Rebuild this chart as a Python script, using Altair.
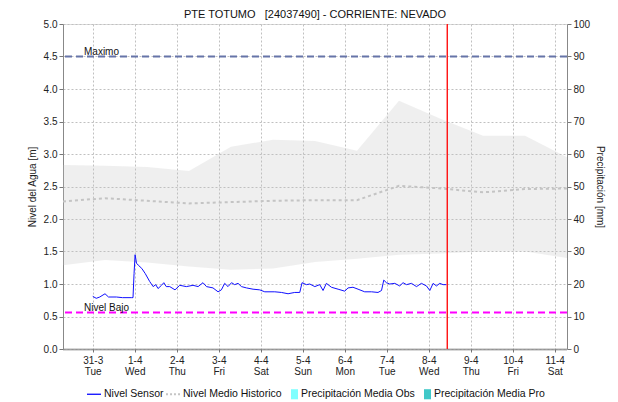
import altair as alt
import pandas as pd

title_text = "PTE TOTUMO\u00a0\u00a0\u00a0[24037490] - CORRIENTE: NEVADO"
sensor_start = "2020-03-31T00:00:00"

# hours since 31-3 00:00 and sensor level [m]
sensor_hours = [0, 2, 4, 7, 9, 13.5, 17, 22, 23, 23.6,
                24.2, 25, 26, 28, 30, 32.5, 34.5, 36, 37.3, 39.3,
                40.6, 42, 44, 47, 49.7, 53.5, 57.3, 60.2, 63, 65,
                68.7, 71.6, 73.5, 75.4, 77.3, 79.3, 81.1, 83, 85, 87.8,
                91.6, 95.4, 98.3, 104, 107.8, 111.6, 115.4, 118.3, 119.6, 122.1,
                124, 126.9, 129.7, 131.6, 133.5, 136.4, 140.2, 144, 145.9, 148.7,
                151.6, 155.4, 159.3, 163, 165, 166.3, 167.8, 169.7, 172.6, 175.4,
                177.3, 179.3, 182.1, 185, 187.8, 190.7, 192.6, 194.5, 196.4, 198.3,
                200.2, 202.1]
sensor_level = [0.81, 0.78, 0.80, 0.85, 0.80, 0.80, 0.79, 0.79, 0.79, 1.16,
                1.45, 1.32, 1.29, 1.24, 1.16, 1.04, 0.96, 0.99, 0.93, 0.98,
                1.02, 0.96, 0.96, 0.91, 0.98, 0.96, 0.98, 0.96, 1.02, 0.96,
                0.94, 0.88, 0.91, 1.01, 0.96, 1.02, 0.99, 1.01, 0.96, 0.94,
                0.92, 0.91, 0.88, 0.88, 0.87, 0.85, 0.87, 0.87, 1.02, 0.99,
                1.00, 0.96, 0.99, 0.90, 1.01, 0.95, 0.92, 0.89, 0.94, 0.95,
                0.92, 0.88, 0.88, 0.87, 0.90, 1.06, 1.02, 1.00, 1.01, 0.97,
                1.02, 0.99, 1.01, 0.96, 1.01, 0.97, 0.90, 1.01, 0.97, 1.01,
                0.99, 0.99]

# historical band (min/max) and historical mean level
band_times = ["2020-03-30T07:00:00", "2020-03-31T07:00:00", "2020-04-01T07:00:00",
              "2020-04-02T07:00:00", "2020-04-03T07:00:00", "2020-04-04T07:00:00",
              "2020-04-05T07:00:00", "2020-04-06T07:00:00", "2020-04-07T07:00:00",
              "2020-04-08T07:00:00", "2020-04-09T07:00:00", "2020-04-10T07:00:00",
              "2020-04-11T07:00:00"]
band_upper = [2.83, 2.82, 2.80, 2.74, 3.11, 3.22, 3.20, 3.05, 3.82, 3.54, 3.28, 3.28, 2.95]
band_lower = [1.29, 1.37, 1.33, 1.27, 1.22, 1.24, 1.34, 1.39, 1.45, 1.47, 1.50, 1.50, 1.40]
hist_mean = [2.27, 2.32, 2.28, 2.24, 2.26, 2.28, 2.29, 2.29, 2.51, 2.47, 2.41, 2.46, 2.47]

nivel_maximo = 4.5
nivel_bajo = 0.56
now_time = "2020-04-08T10:35:00"

day_ticks = [alt.DateTime(year=2020, month=3, date=31)] + \
            [alt.DateTime(year=2020, month=4, date=d) for d in range(1, 12)]
left_ticks = [0.0, 0.5, 1.0, 1.5, 2.0, 2.5, 3.0, 3.5, 4.0, 4.5, 5.0]
right_ticks = [0, 10, 20, 30, 40, 50, 60, 70, 80, 90, 100]

series = ["Nivel Sensor", "Nivel Medio Historico",
          "Precipitación Media Obs", "Precipitación Media Pro"]
series_colors = ["#0000ff", "#c4c4c4", "#80ffff", "#40c8c8"]
series_shapes = [
    "M-1,-0.09H1V0.09H-1Z",
    "M-1,-0.14H-0.72V0.14H-1Z M-0.42,-0.14H-0.14V0.14H-0.42Z M0.14,-0.14H0.42V0.14H0.14Z M0.72,-0.14H1V0.14H0.72Z",
    "M0,-0.72H1V0.72H0Z",
    "M0,-0.72H1V0.72H0Z",
]
precip_mm = [None, None, None, None]  # no precipitation recorded in the window

FONT = "Liberation Sans"

sensor_times = [(pd.Timestamp(sensor_start) + pd.to_timedelta(h, unit="h")).strftime("%Y-%m-%dT%H:%M:%S")
                for h in sensor_hours]
sensor_df = pd.DataFrame({"t": sensor_times, "nivel": sensor_level})
band_df = pd.DataFrame({"t": band_times, "upper": band_upper, "lower": band_lower, "mean": hist_mean})
max_df = pd.DataFrame({"label": ["Maximo"], "nivel": [nivel_maximo]})
bajo_df = pd.DataFrame({"label": ["Nivel Bajo"], "nivel": [nivel_bajo]})
now_df = pd.DataFrame({"t": [now_time]})
legend_df = pd.DataFrame({"serie": series, "p": precip_mm})

x_scale = alt.Scale(domain=[alt.DateTime(year=2020, month=3, date=30, hours=7),
                            alt.DateTime(year=2020, month=4, date=11, hours=7)])
x_axis = alt.Axis(
    title=None,
    values=day_ticks,
    labelExpr="[timeFormat(datum.value, '%-d-%-m'), timeFormat(datum.value, '%a')]",
    labelOverlap=False, labelFlush=False,
    labelFontSize=10, labelFont=FONT, labelColor="#222", labelPadding=3, labelLineHeight=11,
    tickSize=3, tickColor="#777",
    domainColor="#666", domainWidth=2, domainDash=[1, 1],
    grid=True, gridColor="#c0c0c0", gridDash=[2, 2],
)
y_scale = alt.Scale(domain=[0, 5], nice=False)
y_axis = alt.Axis(
    title="Nivel del Agua [m]", titleFont=FONT, titleFontSize=10, titleFontWeight="normal",
    titleColor="#222", titlePadding=6,
    values=left_ticks, format=".1f", labelFont=FONT, labelFontSize=10, labelColor="#222",
    tickSize=4, tickColor="#777", labelPadding=2, domainColor="#888",
    grid=True, gridColor="#c0c0c0", gridDash=[2, 2],
)


def X():
    return alt.X("t:T", scale=x_scale, axis=x_axis)


def Y(field):
    return alt.Y(field, scale=y_scale, axis=y_axis)


band = alt.Chart(band_df).mark_area(color="#c0c0c0", opacity=0.25).encode(
    x=X(), y=Y("upper:Q"), y2="lower:Q")
mean_line = alt.Chart(band_df).mark_line(color="#c4c4c4", strokeWidth=2, strokeDash=[3, 3]).encode(
    x=X(), y=Y("mean:Q"))
sensor = alt.Chart(sensor_df).mark_line(color="#1010ff", strokeWidth=1).encode(
    x=X(), y=Y("nivel:Q"))
max_rule = alt.Chart(max_df).mark_rule(color="#6674a8", strokeWidth=2, strokeDash=[7, 4]).encode(
    y=Y("nivel:Q"))
max_text = alt.Chart(max_df).mark_text(align="left", baseline="alphabetic", dy=-2, fontSize=10,
                                       font=FONT, color="#111").encode(
    x=alt.value(21), y=Y("nivel:Q"), text="label:N")
bajo_rule = alt.Chart(bajo_df).mark_rule(color="#ff00ff", strokeWidth=2, strokeDash=[7, 4]).encode(
    y=Y("nivel:Q"))
bajo_text = alt.Chart(bajo_df).mark_text(align="left", baseline="alphabetic", dy=-2, fontSize=10,
                                         font=FONT, color="#111").encode(
    x=alt.value(21), y=Y("nivel:Q"), text="label:N")
now_rule = alt.Chart(now_df).mark_rule(color="#ff1010", strokeWidth=1.4).encode(x=X())

left = alt.layer(band, mean_line, sensor, max_rule, max_text, bajo_rule, bajo_text, now_rule)

legend = alt.Legend(
    title=None, orient="none", legendX=24, legendY=363, direction="horizontal", columns=4,
    symbolSize=196, symbolStrokeWidth=0, symbolOpacity=1,
    labelFont=FONT, labelFontSize=10.5, labelColor="#111", labelOffset=3, labelLimit=300,
    columnPadding=2, padding=0,
)
precip = alt.Chart(legend_df).mark_point(filled=True, opacity=1).encode(
    y=alt.Y("p:Q", scale=alt.Scale(domain=[0, 100], nice=False),
            axis=alt.Axis(orient="right", title="Precipitación [mm]", titleFont=FONT, titleFontSize=10,
                          titleFontWeight="normal", titleColor="#222", titlePadding=5,
                          values=right_ticks, labelFont=FONT, labelFontSize=10, labelColor="#222",
                          tickSize=4, tickColor="#777", labelPadding=2, domainColor="#888", grid=False)),
    color=alt.Color("serie:N", scale=alt.Scale(domain=series, range=series_colors), legend=legend),
    shape=alt.Shape("serie:N", scale=alt.Scale(domain=series, range=series_shapes), legend=legend),
)

chart = alt.layer(left, precip).resolve_scale(y="independent").properties(
    width=504, height=325,
    title=alt.TitleParams(text=title_text, font=FONT, fontSize=11, fontWeight="normal",
                          color="#111", anchor="middle", offset=-1),
    autosize=alt.AutoSizeParams(type="none"),
    padding={"left": 55, "top": 16, "right": 43, "bottom": 52},
).configure_view(stroke="#888", strokeWidth=1).configure(font=FONT)

chart.save("out.html", embed_options={"renderer": "svg", "actions": False})
